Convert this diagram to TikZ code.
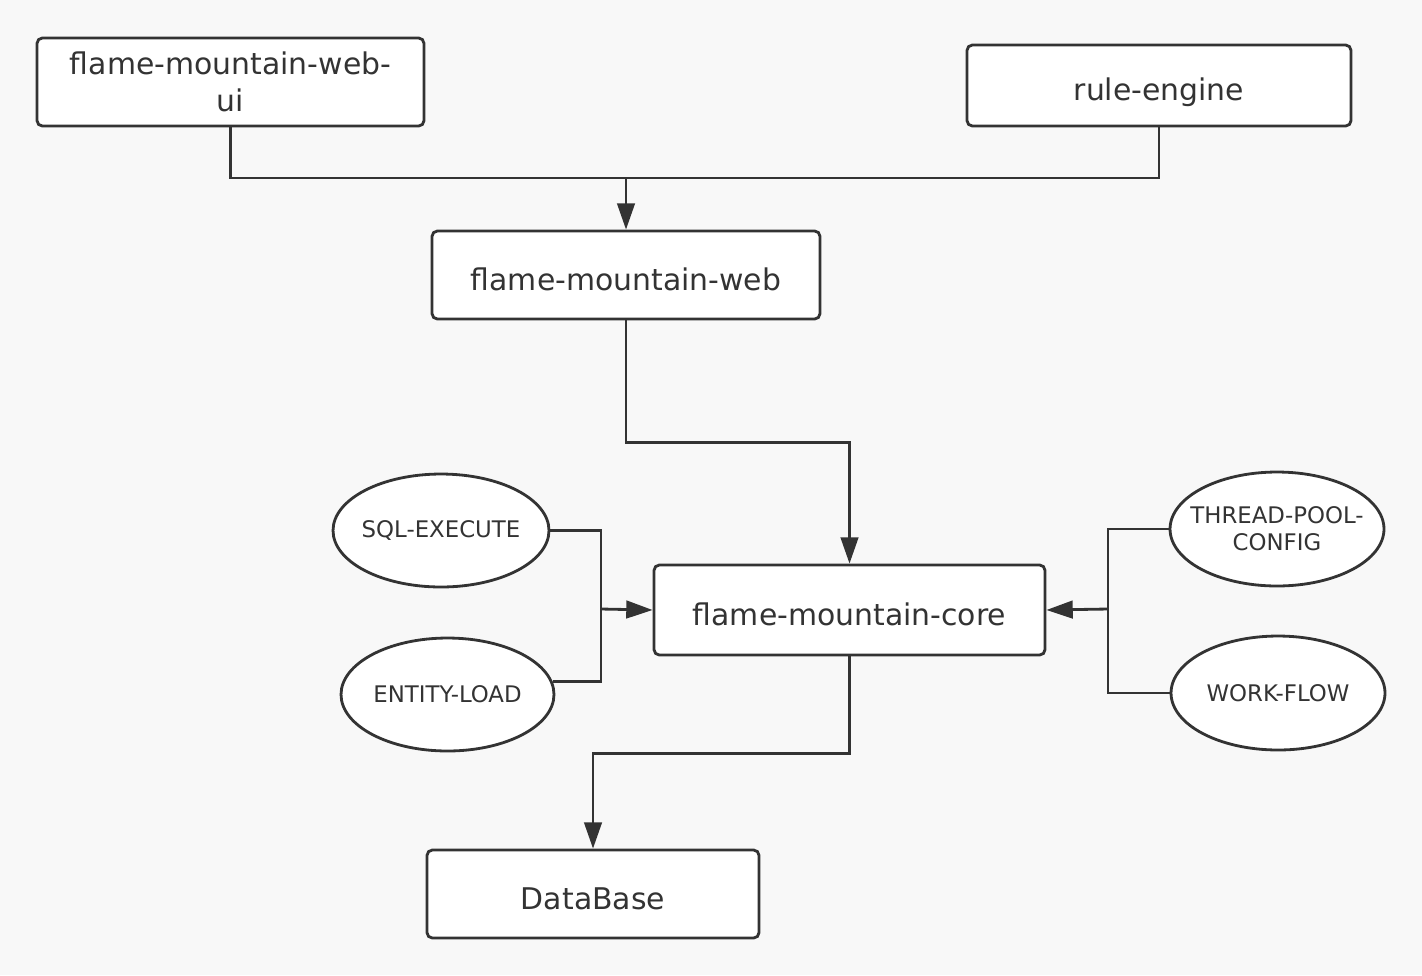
\documentclass[tikz,border=0pt]{standalone}
\usepackage{fontspec}
\setmainfont{DejaVu Sans}
\usetikzlibrary{arrows.meta,shapes.geometric}
\definecolor{ink}{HTML}{333333}
\definecolor{paper}{HTML}{F8F8F8}
\begin{document}
\begin{tikzpicture}[x=0.02cm, y=-0.02cm, every node/.style={draw=ink, line width=1.6pt, fill=white, text=ink, inner sep=0pt},
	box/.style={rectangle, rounded corners=3pt, font=\fontsize{17}{21}\selectfont, align=center},
	single/.style={box, text height=17.1pt, text depth=0pt},
	oval/.style={ellipse, inner xsep=-12pt, font=\fontsize{13}{15.4}\selectfont, align=center},
	link/.style={draw=ink, line width=1.6pt},
	tip/.style={-{Triangle[length=15pt, width=10pt]}}]

		\fill[paper] (0,0) rectangle (1422,975);
		\useasboundingbox (0,0) rectangle (1422,975);

		\node[box, text depth=-0.16cm, minimum width=7.74cm, minimum height=1.76cm] (ui) at (230.5, 82) {flame-mountain-web-\\ui};
		\node[single, minimum width=7.68cm, minimum height=1.62cm] (rule) at (1159, 85.5) {rule-engine};
		\node[single, minimum width=7.76cm, minimum height=1.76cm] (web) at (626, 275) {flame-mountain-web};
		\node[single, minimum width=7.82cm, minimum height=1.80cm] (core) at (849.5, 610) {flame-mountain-core};
		\node[single, minimum width=6.64cm, minimum height=1.76cm] (db) at (593, 894) {DataBase};

		\node[oval, minimum width=4.32cm, minimum height=2.26cm] (sql) at (441, 530.5) {SQL-EXECUTE};
		\node[oval, minimum width=4.26cm, minimum height=2.26cm] (ent) at (447.5, 694.5) {ENTITY-LOAD};
		\node[oval, minimum width=4.28cm, minimum height=2.28cm] (pool) at (1277, 529) {THREAD-POOL-\\CONFIG};
		\node[oval, minimum width=4.28cm, minimum height=2.28cm] (flow) at (1278, 693) {WORK-FLOW};

		\coordinate (top) at (626, 178);
		\coordinate (left) at (601, 609);
		\coordinate (right) at (1108, 609);

		\draw[link] (ui.south) |- (top);
		\draw[link] (rule.south) |- (top);
		\draw[link, tip] (top) -- (web.north);
		\draw[link, tip] (web.south) -- ++(0,122) -| (core.north);
		\draw[link, tip] (core.south) -- ++(0,97) -| (db.north);

		\draw[link] (sql.east) -| (left);
		\draw[link] (ent.7) -| (left);
		\draw[link, tip] (left) -- (core.west);
		\draw[link] (pool.west) -| (right);
		\draw[link] (flow.west) -| (right);
		\draw[link, tip] (right) -- (core.east);
	\end{tikzpicture}
\end{document}
